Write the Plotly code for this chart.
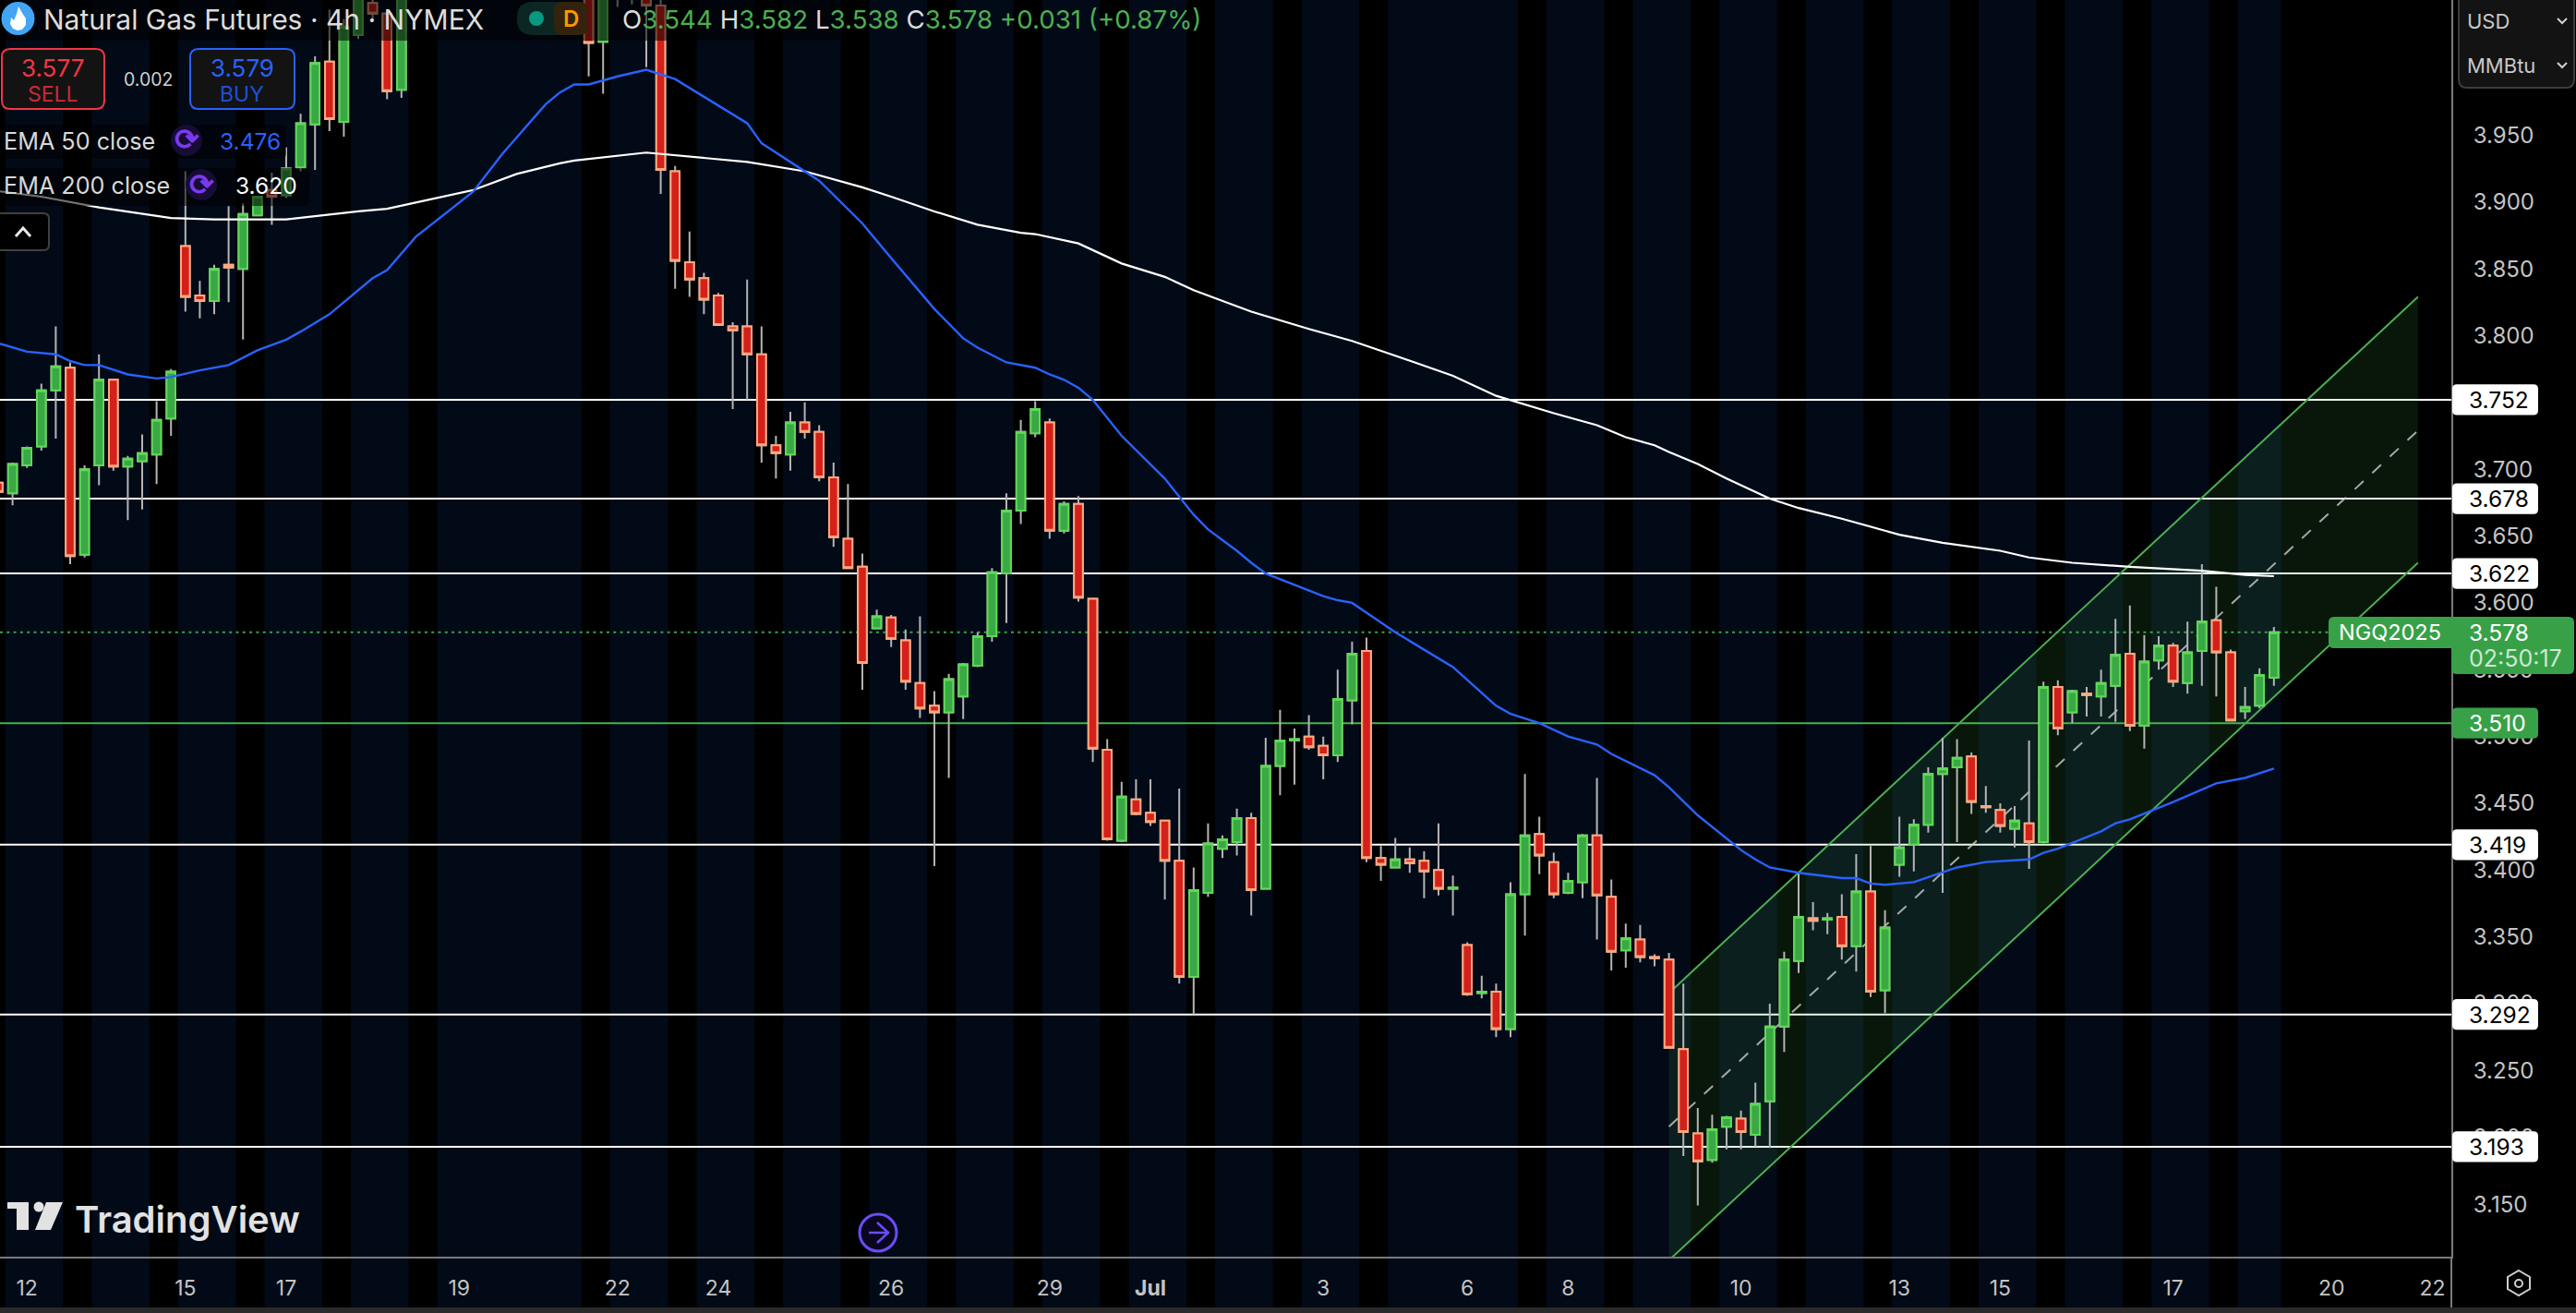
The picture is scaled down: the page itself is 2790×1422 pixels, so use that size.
from plotly import graph_objects as go

W, H = 2790, 1422
AXIS_X, AXIS_Y = 2655, 1361
X_LEFT, X_RIGHT = -0.872, 169.32
Y_BOTTOM, Y_TOP = 3.1107, 4.0512

# 4h candles, index 28-39 are above the visible range
candle_idx = list(range(-1, 28)) + list(range(40, 158))
opens = [3.690, 3.682, 3.703, 3.717, 3.759, 3.776, 3.636, 3.703, 3.767, 3.702, 3.706, 3.711, 3.738, 3.867, 3.830,
         3.826, 3.853, 3.850, 3.890, 3.909, 3.905, 3.926, 3.958, 4.005, 3.960, 4.025, 4.049, 4.041, 3.984,
         4.070, 4.020, 4.080, 4.090, 4.070, 4.047, 3.923, 3.855, 3.843, 3.830, 3.807, 3.807, 3.786, 3.718, 3.711,
         3.735, 3.728, 3.694, 3.648, 3.627, 3.581, 3.589, 3.572, 3.540, 3.523, 3.518, 3.530, 3.553, 3.575, 3.622,
         3.669, 3.727, 3.735, 3.654, 3.674, 3.603, 3.490, 3.422, 3.453, 3.443, 3.437, 3.407, 3.320, 3.383, 3.416,
         3.421, 3.439, 3.386, 3.478, 3.497, 3.500, 3.493, 3.486, 3.527, 3.564, 3.409, 3.402, 3.408, 3.407, 3.400,
         3.386, 3.344, 3.308, 3.309, 3.281, 3.382, 3.427, 3.406, 3.383, 3.391, 3.426, 3.380, 3.340, 3.348, 3.335,
         3.333, 3.266, 3.203, 3.183, 3.208, 3.214, 3.202, 3.227, 3.283, 3.332, 3.364, 3.363, 3.365, 3.343, 3.384,
         3.310, 3.404, 3.419, 3.434, 3.472, 3.477, 3.485, 3.448, 3.445, 3.431, 3.435, 3.421, 3.537, 3.518, 3.532,
         3.530, 3.538, 3.562, 3.508, 3.557, 3.568, 3.540, 3.564, 3.587, 3.563, 3.519, 3.523, 3.544]
highs = [3.693, 3.705, 3.717, 3.764, 3.807, 3.780, 3.703, 3.786, 3.767, 3.710, 3.726, 3.751, 3.775, 3.923, 3.841,
         3.853, 3.897, 3.899, 3.904, 3.922, 3.941, 3.966, 4.009, 4.044, 4.037, 4.070, 4.060, 4.041, 4.070,
         4.080, 4.080, 4.100, 4.100, 4.090, 4.052, 3.927, 3.878, 3.847, 3.832, 3.810, 3.842, 3.807, 3.725, 3.743,
         3.750, 3.733, 3.705, 3.689, 3.637, 3.595, 3.591, 3.580, 3.590, 3.534, 3.547, 3.555, 3.578, 3.626, 3.682,
         3.737, 3.751, 3.738, 3.676, 3.680, 3.603, 3.498, 3.466, 3.468, 3.468, 3.437, 3.461, 3.402, 3.435, 3.426,
         3.446, 3.443, 3.499, 3.520, 3.506, 3.516, 3.500, 3.550, 3.571, 3.574, 3.418, 3.424, 3.417, 3.414, 3.435,
         3.396, 3.346, 3.321, 3.315, 3.391, 3.472, 3.440, 3.413, 3.398, 3.427, 3.469, 3.393, 3.360, 3.359, 3.337,
         3.338, 3.315, 3.222, 3.217, 3.216, 3.220, 3.241, 3.300, 3.339, 3.398, 3.376, 3.368, 3.382, 3.412, 3.418,
         3.370, 3.440, 3.438, 3.477, 3.499, 3.498, 3.488, 3.463, 3.450, 3.448, 3.497, 3.541, 3.542, 3.535, 3.537,
         3.550, 3.588, 3.598, 3.576, 3.575, 3.570, 3.586, 3.629, 3.612, 3.565, 3.537, 3.551, 3.582]
lows = [3.678, 3.673, 3.701, 3.714, 3.723, 3.629, 3.634, 3.688, 3.699, 3.662, 3.670, 3.689, 3.725, 3.818, 3.813,
        3.816, 3.825, 3.797, 3.890, 3.883, 3.903, 3.923, 3.924, 3.953, 3.949, 4.022, 4.035, 3.977, 3.978,
        3.994, 3.981, 4.046, 4.048, 4.001, 3.906, 3.835, 3.829, 3.816, 3.808, 3.745, 3.752, 3.705, 3.693, 3.699,
        3.723, 3.691, 3.642, 3.626, 3.535, 3.581, 3.567, 3.535, 3.514, 3.403, 3.469, 3.513, 3.552, 3.571, 3.585,
        3.659, 3.724, 3.648, 3.652, 3.601, 3.481, 3.422, 3.421, 3.441, 3.433, 3.378, 3.315, 3.292, 3.380, 3.409,
        3.411, 3.366, 3.386, 3.456, 3.464, 3.490, 3.468, 3.481, 3.509, 3.406, 3.392, 3.402, 3.398, 3.379, 3.381,
        3.366, 3.306, 3.304, 3.275, 3.275, 3.351, 3.397, 3.379, 3.382, 3.379, 3.348, 3.325, 3.327, 3.331, 3.328,
        3.267, 3.186, 3.149, 3.181, 3.191, 3.191, 3.193, 3.192, 3.264, 3.323, 3.355, 3.352, 3.333, 3.324, 3.305,
        3.293, 3.395, 3.399, 3.428, 3.383, 3.421, 3.442, 3.443, 3.428, 3.417, 3.401, 3.420, 3.501, 3.510, 3.515,
        3.515, 3.511, 3.504, 3.491, 3.550, 3.537, 3.532, 3.538, 3.530, 3.512, 3.513, 3.521, 3.538]
closes = [3.683, 3.704, 3.716, 3.759, 3.777, 3.635, 3.700, 3.767, 3.702, 3.708, 3.712, 3.737, 3.773, 3.829, 3.826,
          3.850, 3.851, 3.891, 3.904, 3.904, 3.925, 3.959, 4.004, 3.962, 4.031, 4.060, 4.041, 3.983, 4.060,
          4.019, 4.070, 4.090, 4.080, 4.047, 3.924, 3.856, 3.842, 3.827, 3.808, 3.804, 3.786, 3.718, 3.712, 3.735,
          3.728, 3.694, 3.649, 3.626, 3.555, 3.590, 3.573, 3.541, 3.521, 3.518, 3.543, 3.554, 3.575, 3.623, 3.669,
          3.728, 3.745, 3.654, 3.674, 3.604, 3.491, 3.423, 3.455, 3.442, 3.436, 3.407, 3.320, 3.385, 3.420, 3.423,
          3.439, 3.385, 3.478, 3.497, 3.498, 3.492, 3.486, 3.528, 3.562, 3.409, 3.404, 3.408, 3.405, 3.399, 3.386,
          3.387, 3.307, 3.309, 3.281, 3.382, 3.426, 3.411, 3.382, 3.392, 3.426, 3.381, 3.339, 3.349, 3.335, 3.334,
          3.267, 3.204, 3.182, 3.206, 3.215, 3.204, 3.225, 3.283, 3.333, 3.365, 3.362, 3.364, 3.343, 3.384, 3.309,
          3.357, 3.417, 3.434, 3.472, 3.476, 3.484, 3.451, 3.447, 3.433, 3.437, 3.421, 3.537, 3.506, 3.534, 3.531,
          3.540, 3.561, 3.508, 3.556, 3.568, 3.541, 3.563, 3.586, 3.563, 3.512, 3.522, 3.546, 3.578]

ema50_idx = [-0.87, 1, 3, 4, 5, 6, 8, 10, 11, 13, 15, 17, 19, 20, 22, 25, 26, 28, 32, 34, 37, 38, 39, 40, 42, 44, 46,
             51, 52, 56, 59, 61, 64, 66, 67, 69, 71, 72, 73, 74, 75, 77, 80, 82, 83, 85, 86, 87, 91, 92, 93, 96, 100,
             103, 104, 106, 108, 109, 110, 111, 114, 115, 117, 120, 121, 122, 123, 124, 127, 128, 129, 130, 132, 134,
             135, 137, 140, 141, 142, 145, 146, 147, 150, 153, 155, 157]
ema50 = [3.794, 3.788, 3.786, 3.781, 3.778, 3.778, 3.771, 3.768, 3.769, 3.774, 3.778, 3.789, 3.797, 3.803, 3.816, 3.843,
         3.849, 3.874, 3.908, 3.936, 3.973, 3.982, 3.988, 3.988, 3.994, 3.999, 3.992, 3.959, 3.944, 3.916, 3.884, 3.858,
         3.820, 3.798, 3.791, 3.780, 3.776, 3.771, 3.767, 3.761, 3.752, 3.725, 3.693, 3.666, 3.655, 3.639, 3.630, 3.622,
         3.605, 3.602, 3.600, 3.578, 3.552, 3.523, 3.517, 3.510, 3.500, 3.497, 3.494, 3.487, 3.471, 3.462, 3.441, 3.415,
         3.408, 3.402, 3.400, 3.398, 3.394, 3.394, 3.390, 3.389, 3.391, 3.398, 3.402, 3.406, 3.408, 3.413, 3.416, 3.429,
         3.435, 3.438, 3.451, 3.465, 3.469, 3.476]
ema200_idx = [-0.87, 2, 6, 11, 14, 19, 24, 26, 32, 35, 38, 39, 44, 51, 55, 59, 61, 64, 67, 70, 71, 74, 77, 80, 82, 86,
              90, 93, 96, 100, 103, 107, 110, 112, 114, 115, 117, 119, 121, 122, 124, 127, 130, 131, 134, 138, 140,
              143, 147, 152, 155, 157]
ema200 = [3.908, 3.904, 3.896, 3.888, 3.887, 3.887, 3.893, 3.895, 3.909, 3.921, 3.929, 3.931, 3.937, 3.930, 3.923, 3.911,
          3.904, 3.893, 3.883, 3.877, 3.876, 3.869, 3.854, 3.844, 3.834, 3.818, 3.805, 3.796, 3.785, 3.770, 3.755, 3.742,
          3.733, 3.724, 3.718, 3.713, 3.704, 3.693, 3.683, 3.678, 3.671, 3.663, 3.654, 3.651, 3.645, 3.639, 3.634, 3.630,
          3.627, 3.624, 3.621, 3.620]

white_levels = [3.752, 3.678, 3.622, 3.419, 3.292, 3.193]
green_level = 3.510
last_price = 3.578

channel_x = [115, 167]
channel_upper = [3.308, 3.829]
channel_mid = [3.208, 3.729]
channel_lower = [3.108, 3.630]

session_bands = [(-0.5, 3.5), (5.5, 9.5), (11.5, 15.5), (17.5, 21.5), (23.5, 27.5), (29.5, 39.5), (41.5, 45.5),
                 (47.5, 51.5), (53.5, 57.5), (59.5, 63.5), (65.5, 69.5), (71.5, 75.5), (77.5, 81.5), (83.5, 87.5),
                 (89.5, 93.5), (95.5, 104.5), (106.5, 110.5), (112.5, 116.5), (118.5, 122.5), (124.5, 128.5),
                 (130.5, 134.5), (136.5, 140.5), (142.5, 146.5), (148.5, 152.5), (154.5, 157.5)]

y_ticks = [3.15, 3.2, 3.25, 3.3, 3.35, 3.4, 3.45, 3.5, 3.55, 3.6, 3.65, 3.7, 3.75, 3.8, 3.85, 3.9, 3.95]
x_tick_idx = [1, 12, 19, 31, 42, 49, 61, 72, 79, 91, 101, 108, 120, 131, 138, 150, 161, 168]
x_tick_text = ["12", "15", "17", "19", "22", "24", "26", "29", "<b>Jul</b>", "3", "6", "8", "10", "13", "15", "17", "20", "22"]

FONT = "Inter"
UP_FILL, UP_LINE = "#3aa845", "#5fd957"
DOWN_FILL, DOWN_LINE = "#d4201a", "#ffa97f"
GREEN = "#38a148"
BLUE = "#2962ff"


def fx(x):
    return x / W


def fy(y):
    return 1 - y / H


def box(x0, x1, bottom, top, fill, line=None, lw=0, rx=6 / W, ry=6 / H, yref="paper"):
    path = (f"M {x0 + rx} {top} L {x1 - rx} {top} Q {x1} {top} {x1} {top - ry} L {x1} {bottom + ry} "
            f"Q {x1} {bottom} {x1 - rx} {bottom} L {x0 + rx} {bottom} Q {x0} {bottom} {x0} {bottom + ry} "
            f"L {x0} {top - ry} Q {x0} {top} {x0 + rx} {top} Z")
    return dict(type="path", path=path, xref="paper", yref=yref, fillcolor=fill, layer="above",
                line=dict(color=line or fill, width=lw))


def pbox(x0, y0, x1, y1, fill, line=None, lw=0, r=6):
    return box(fx(x0), fx(x1), fy(y1), fy(y0), fill, line, lw, r / W, r / H)


def poly(points, fill=None, line=None, lw=0, close=True):
    path = "M " + " L ".join(f"{fx(x)} {fy(y)}" for x, y in points) + (" Z" if close else "")
    return dict(type="path", path=path, xref="paper", yref="paper", layer="above",
                fillcolor=fill or "rgba(0,0,0,0)", line=dict(color=line or "rgba(0,0,0,0)", width=lw))


def circle(cx, cy, r, fill, line=None, lw=0):
    return dict(type="circle", xref="paper", yref="paper", x0=fx(cx - r), x1=fx(cx + r), y0=fy(cy + r), y1=fy(cy - r),
                fillcolor=fill, layer="above", line=dict(color=line or fill, width=lw))


def label(x, y, text, size, color, anchor="left", weight=400):
    return dict(x=fx(x), y=fy(y), xref="paper", yref="paper", text=text, showarrow=False, xanchor=anchor,
                yanchor="middle", borderpad=0, font=dict(family=FONT, size=size, color=color, weight=weight))


fig = go.Figure()

# wicks first, bodies on top so the border colour can differ from the wick
fig.add_trace(go.Candlestick(
    x=candle_idx, open=opens, high=highs, low=lows, close=closes, hoverinfo="skip", showlegend=False, whiskerwidth=0,
    increasing=dict(line=dict(color="#b4b4b4", width=2), fillcolor="#b4b4b4"),
    decreasing=dict(line=dict(color="#b4b4b4", width=2), fillcolor="#b4b4b4")))
fig.add_trace(go.Candlestick(
    x=candle_idx, open=opens, close=closes, hoverinfo="skip", showlegend=False, whiskerwidth=0,
    high=[max(o, c) for o, c in zip(opens, closes)], low=[min(o, c) for o, c in zip(opens, closes)],
    increasing=dict(line=dict(color=UP_LINE, width=2), fillcolor=UP_FILL),
    decreasing=dict(line=dict(color=DOWN_LINE, width=2), fillcolor=DOWN_FILL)))
fig.add_trace(go.Scatter(x=ema200_idx, y=ema200, mode="lines", line=dict(color="#ffffff", width=2.2),
                         hoverinfo="skip", showlegend=False))
fig.add_trace(go.Scatter(x=ema50_idx, y=ema50, mode="lines", line=dict(color=BLUE, width=2.4),
                         hoverinfo="skip", showlegend=False))

shapes = []
for x0, x1 in session_bands:
    shapes.append(dict(type="rect", xref="x", yref="paper", x0=x0, x1=x1, y0=0, y1=1, layer="below",
                       fillcolor="#030a17", line=dict(width=0)))
for level in white_levels:
    shapes.append(dict(type="line", xref="paper", yref="y", x0=0, x1=fx(AXIS_X), y0=level, y1=level, layer="below",
                       line=dict(color="#ffffff", width=2)))
shapes.append(dict(type="line", xref="paper", yref="y", x0=0, x1=fx(AXIS_X), y0=green_level, y1=green_level,
                   layer="below", line=dict(color="#4caf50", width=2)))
shapes.append(dict(type="line", xref="paper", yref="y", x0=0, x1=fx(2522), y0=last_price, y1=last_price,
                   layer="below", line=dict(color="#38a148", width=2, dash="3px,4.3px")))

# regression channel
shapes.append(dict(type="path", xref="x", yref="y", layer="below", fillcolor="rgba(70,190,90,0.12)", line=dict(width=0),
                   path=f"M {channel_x[0]} {channel_upper[0]} L {channel_x[1]} {channel_upper[1]} "
                        f"L {channel_x[1]} {channel_lower[1]} L {channel_x[0]} {channel_lower[0]} Z"))
for values, dash, color in [(channel_upper, "solid", "#4caf50"), (channel_lower, "solid", "#4caf50"),
                            (channel_mid, "13px,13px", "rgba(205,205,205,0.8)")]:
    shapes.append(dict(type="line", xref="x", yref="y", x0=channel_x[0], x1=channel_x[1], y0=values[0], y1=values[1],
                       layer="below", line=dict(color=color, width=2, dash=dash)))

# header and legend rows sit on a translucent strip
shapes.append(pbox(0, 0, 910, 44, "rgba(0,0,0,0.55)"))
shapes.append(pbox(0, 135, 310, 172, "rgba(0,0,0,0.55)"))
shapes.append(pbox(0, 182, 335, 223, "rgba(0,0,0,0.55)"))

# symbol icon
shapes.append(circle(19.5, 20, 18, "#42a5f5"))
shapes.append(poly([(20, 7), (24, 14), (28, 20), (28, 27), (24, 32), (19, 33), (14, 31), (11, 26), (12, 19), (15, 22),
                    (18, 15)], fill="#ffffff"))
# market status pill
shapes.append(pbox(560, 2, 637, 38, "#0c2723", r=17))
shapes.append(pbox(600, 2, 637, 38, "#33230c", r=10))
shapes.append(circle(581, 20, 8, "#089981"))
# trade buttons
shapes.append(pbox(2, 53, 113, 118, "#131313", "#f23645", 2, r=9))
shapes.append(pbox(206, 53, 319, 118, "#131313", BLUE, 2, r=9))
# indicator icons
shapes.append(circle(202, 152, 17, "#160c35"))
shapes.append(circle(218, 200, 17, "#160c35"))
# collapse button
shapes.append(pbox(-8, 231, 53, 271, "#000000", "#404040", 2))
shapes.append(poly([(17, 256), (25, 247), (33, 256)], line="#e8e8e8", lw=3, close=False))

# price tags
for level in white_levels:
    shapes.append(box(fx(2656), fx(2749), level - 0.0115, level + 0.0115, "#ffffff", rx=5 / W, ry=5 / 1447, yref="y"))
shapes.append(box(fx(2656), fx(2749), green_level - 0.0115, green_level + 0.0115, GREEN, rx=5 / W, ry=5 / 1447, yref="y"))
shapes.append(pbox(2522, 668, 2700, 702, GREEN, r=6))
shapes.append(pbox(2655, 668, 2788, 730, GREEN, r=6))

# currency and unit selector
shapes.append(pbox(2663, -8, 2788, 95, "#131313", "#3e3e3e", 2, r=9))
for y in [22, 70]:
    shapes.append(poly([(2770, y - 2), (2775, y + 3), (2780, y - 2)], line="#d0d0d0", lw=2, close=False))

# TradingView logo
shapes.append(poly([(8, 1302), (31, 1302), (31, 1332), (18, 1332), (18, 1309), (8, 1309)], fill="#e2e2e2"))
shapes.append(circle(42, 1307, 5.5, "#e2e2e2"))
shapes.append(poly([(50, 1302), (68, 1302), (55, 1332), (38, 1332)], fill="#e2e2e2"))
# replay icon
shapes.append(circle(951, 1335, 20, "#0b0620", "#6a4df5", 3))
shapes.append(poly([(941, 1335), (963, 1335)], line="#6a4df5", lw=2.5, close=False))
shapes.append(poly([(950, 1324), (962, 1335), (950, 1346)], line="#6a4df5", lw=2.5, close=False))
# settings icon and bottom border
shapes.append(poly([(2728, 1376), (2740, 1383), (2740, 1396), (2728, 1403), (2716, 1396), (2716, 1383)],
                   line="#cfcfcf", lw=2))
shapes.append(circle(2728, 1390, 4, "rgba(0,0,0,0)", "#cfcfcf", 2))
shapes.append(poly([(AXIS_X, AXIS_Y), (AXIS_X, 1416)], line="#7a7a7a", lw=2, close=False))
shapes.append(pbox(-4, 1416, W + 4, H + 4, "#2a2a2a", r=0))

annotations = [
    label(46, 21, "Natural Gas Futures · 4h · NYMEX", 30, "#dcdcdc"),
    label(618, 20, "D", 24, "#ff9800", "center", 600),
    label(673, 21, "O<span style='color:#4caf50'>3.544</span> H<span style='color:#4caf50'>3.582</span> "
                   "L<span style='color:#4caf50'>3.538</span> C<span style='color:#4caf50'>3.578</span> "
                   "<span style='color:#4caf50'>+0.031 (+0.87%)</span>", 27.7, "#dcdcdc"),
    label(57, 74, "3.577", 26, "#f23645", "center"),
    label(57, 102, "SELL", 23, "#c92a36", "center"),
    label(160, 86, "0.002", 19.5, "#d0d0d0", "center"),
    label(262, 74, "3.579", 26, BLUE, "center"),
    label(262, 102, "BUY", 23, "#1f4fd8", "center"),
    label(3, 153, "EMA 50 close", 25.2, "#d8d8d8"),
    label(202, 151, "⟳", 32, "#7c3aed", "center", 700),
    label(237, 153, "3.476", 24.5, BLUE),
    label(3, 201, "EMA 200 close", 25.2, "#d8d8d8"),
    label(218, 199, "⟳", 32, "#7c3aed", "center", 700),
    label(254, 201, "3.620", 24.5, "#ffffff"),
    label(2671, 23, "USD", 22, "#c8c8c8"),
    label(2671, 71, "MMBtu", 22, "#c8c8c8"),
    label(80, 1320, "TradingView", 40, "#e2e2e2", weight=600),
    label(2588, 685, "NGQ2025", 23.5, "#ffffff", "center"),
    label(2673, 685, "3.578", 24.5, "#ffffff"),
    label(2673, 713, "02:50:17", 25, "#cfe8d2"),
]
for level in white_levels + [green_level]:
    ann = label(2673, 0, f"{level:.3f}", 24.5, "#000000" if level != green_level else "#ffffff")
    ann.update(yref="y", y=level)
    annotations.append(ann)

fig.update_layout(
    width=W, height=H, autosize=False, margin=dict(l=0, r=0, t=0, b=0, pad=0),
    paper_bgcolor="#000000", plot_bgcolor="#000000", showlegend=False, boxgap=0.12, boxmode="overlay",
    dragmode=False, hovermode=False, shapes=shapes, annotations=annotations,
    xaxis=dict(domain=[0, AXIS_X / W], range=[X_LEFT, X_RIGHT], rangeslider=dict(visible=False), showgrid=False,
               zeroline=False, tickmode="array", tickvals=x_tick_idx, ticktext=x_tick_text, ticks="", showline=True,
               linecolor="#7a7a7a", linewidth=2, ticklabelstandoff=12, tickfont=dict(family=FONT, size=23, color="#c4c4c4")),
    yaxis=dict(domain=[1 - AXIS_Y / H, 1], range=[Y_BOTTOM, Y_TOP], side="right", showgrid=False, zeroline=False,
               tickmode="array", tickvals=y_ticks, ticktext=[f"{t:.3f}" for t in y_ticks], ticks="", showline=True,
               linecolor="#7a7a7a", linewidth=2, ticklabelstandoff=17, tickfont=dict(family=FONT, size=24, color="#c4c4c4")),
)

fig.write_html("out.html", config={"displayModeBar": False},
               post_script="document.body.style.margin='0';document.body.style.background='#000';")
